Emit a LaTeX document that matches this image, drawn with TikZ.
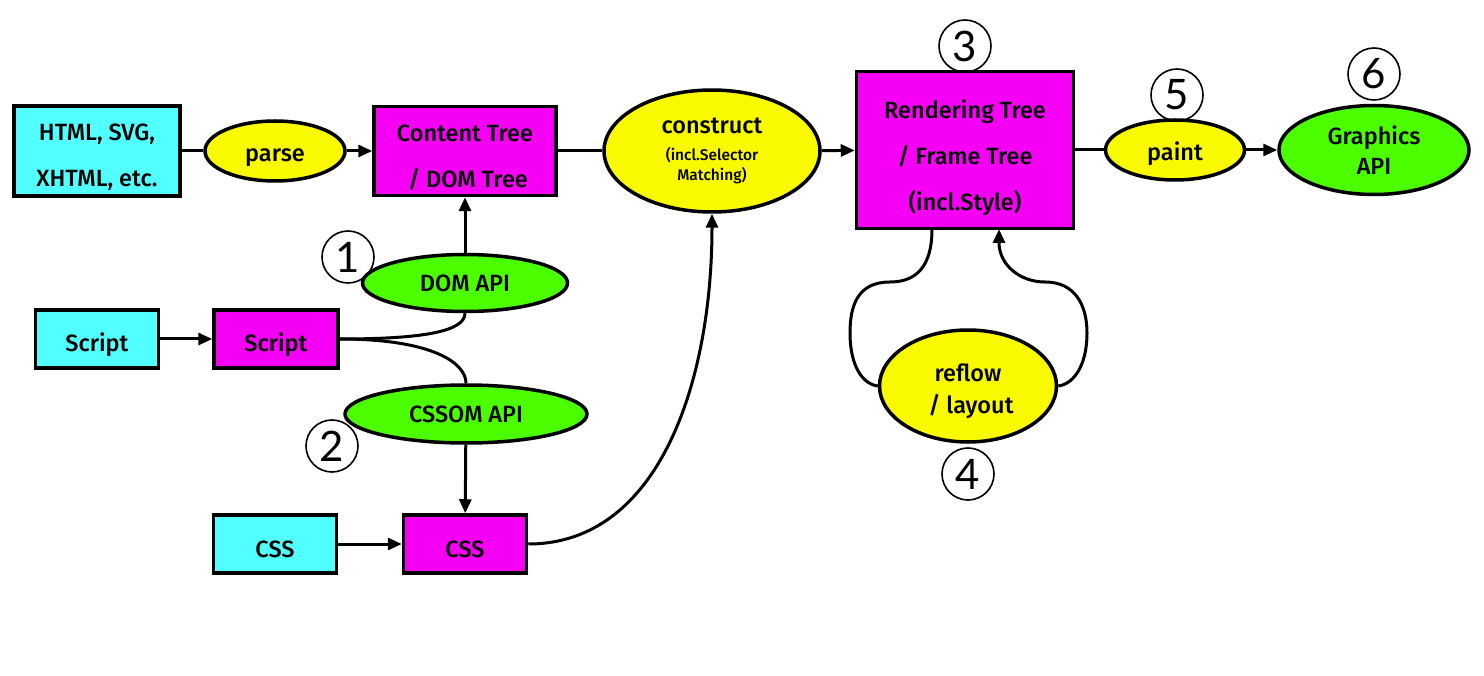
\documentclass[tikz,border=0pt]{standalone}
\usepackage{fontspec}
\setmainfont{Fira Sans Medium}
\newfontfamily\numfont{Lato}
\usetikzlibrary{shapes.geometric,arrows.meta}
\definecolor{cyanc}{HTML}{52FFFF}
\definecolor{magc}{HTML}{F500F5}
\definecolor{yelc}{HTML}{F9FA00}
\definecolor{grnc}{HTML}{4BFF00}
\newcommand\dn[1]{\rule{0pt}{#1}}
\tikzset{
  base/.style={draw=black, line width=3.5pt, inner sep=0pt, align=center, font=\fontsize{23.5}{46}\selectfont},
  srcbox/.style={base, rectangle, fill=cyanc},
  treebox/.style={base, rectangle, fill=magc},
  proc/.style={base, ellipse, fill=yelc},
  api/.style={base, ellipse, fill=grnc},
  num/.style={draw=black, circle, line width=1.6pt, minimum size=52pt, inner sep=0pt, font=\numfont\fontsize{42}{42}\selectfont},
  conn/.style={line width=3pt},
  arr/.style={conn, -{Triangle[length=14pt,width=12pt]}},
}
\begin{document}
\begin{tikzpicture}[x=1pt,y=-1pt]
\useasboundingbox (0,0) rectangle (1484,676);
% top row
\node[srcbox, minimum width=166pt, minimum height=90pt] (html) at (97,151) {\dn{30pt}HTML, SVG,\\XHTML, etc.};
\node[proc, minimum width=140pt, minimum height=60pt] (parse) at (275,151) {\dn{26pt}parse};
\node[treebox, minimum width=182pt, minimum height=89pt] (content) at (465,151) {\dn{30pt}Content Tree\\~/ DOM Tree};
\node[proc, minimum width=216pt, minimum height=122pt, font=\fontsize{15.5}{20}\selectfont] (construct) at (712,151)
  {{\fontsize{23.5}{26}\selectfont construct}\\[7pt](incl.Selector\\Matching)};
\node[treebox, minimum width=217pt, minimum height=157pt] (render) at (965,150) {\dn{35pt}Rendering Tree\\/ Frame Tree\\(incl.Style)};
\node[proc, minimum width=139pt, minimum height=60pt] (paint) at (1175,150) {\dn{26pt}paint};
\node[api, minimum width=190pt, minimum height=89pt, font=\fontsize{23.5}{30}\selectfont] (gfx) at (1374,150) {Graphics\\API};
% middle
\node[api, minimum width=205pt, minimum height=57pt] (domapi) at (465,283) {DOM API};
\node[srcbox, minimum width=123pt, minimum height=58pt] (script1) at (97,339) {\dn{31pt}Script};
\node[treebox, minimum width=124pt, minimum height=58pt] (script2) at (276,339) {\dn{31pt}Script};
\node[api, minimum width=242pt, minimum height=58pt] (cssomapi) at (466,414) {CSSOM API};
\node[srcbox, minimum width=123pt, minimum height=58pt] (css1) at (275,544) {\dn{28pt}CSS};
\node[treebox, minimum width=123pt, minimum height=58pt] (css2) at (465,544) {\dn{28pt}CSS};
\node[proc, minimum width=177pt, minimum height=112pt, font=\fontsize{23.5}{32}\selectfont] (reflow) at (968,386) {\dn{28pt}reflow\\~/ layout};
% numbers
\node[num] (n1) at (348,257) {1};
\node[num] (n2) at (332,446) {2};
\node[num] (n3) at (965,46) {3};
\node[num] (n4) at (968,474) {4};
\node[num] (n5) at (1177,95) {5};
\node[num] (n6) at (1374,74) {6};
% connectors
\draw[conn] (html) -- (parse);
\draw[arr] (parse) -- (content);
\draw[conn] (content) -- (construct);
\draw[arr] (construct) -- (render);
\draw[conn] (render) -- (paint);
\draw[arr] (paint) -- (gfx);
\draw[arr] (domapi) -- (content);
\draw[arr] (script1) -- (script2);
\draw[arr] (css1) -- (css2);
\draw[arr] (cssomapi) -- (css2);
\draw[conn] (script2.east) .. controls (420,339) and (465,332) .. (domapi.south);
\draw[conn] (script2.east) .. controls (430,339) and (466,362) .. (cssomapi.north);
\draw[arr] (css2.east) .. controls (660,544) and (712,380) .. (construct.south);
\coordinate (rbl) at (932,229);
\coordinate (rbr) at (999,229);
\draw[conn] (rbl) .. controls (932,268) and (915,282) .. (890,282)
  .. controls (858,282) and (850,305) .. (850,333)
  .. controls (850,365) and (862,384) .. (reflow.west);
\draw[arr] (reflow.east) .. controls (1074,384) and (1087,365) .. (1087,333)
  .. controls (1087,305) and (1075,282) .. (1045,282)
  .. controls (1020,282) and (999,265) .. (rbr);
\end{tikzpicture}
\end{document}
